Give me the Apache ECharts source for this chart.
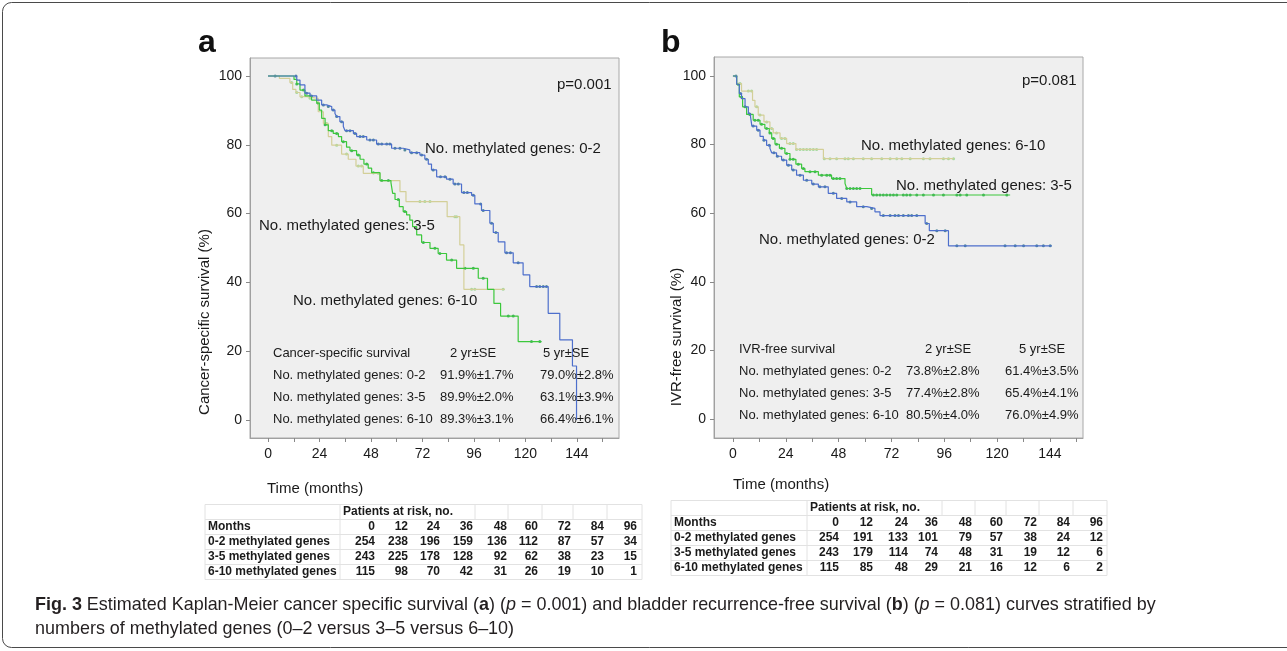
<!DOCTYPE html>
<html>
<head>
<meta charset="utf-8">
<script src="https://cdn.jsdelivr.net/npm/echarts@6/dist/echarts.min.js"></script>
<style>
  html, body { margin: 0; padding: 0; background: #fff; }
  #main { width: 1287px; height: 651px; }
</style>
</head>
<body>
<div id="main"></div>
<script>
  // Kaplan-Meier steps: [month, survival %] (survival drops to value at that month)
  const a02 = [[0,100],[13.4,98.8],[14.9,97.4],[17.2,95.0],[19.6,94.2],[22.7,93.0],[25.0,91.6],[27.3,91.1],[29.7,90.1],[31.2,89.1],[32.0,88.2],[33.5,86.7],[35.1,85.3],[35.9,84.1],[39.8,83.3],[41.3,82.4],[46.0,81.4],[50.6,80.2],[57.6,79.0],[63.0,78.5],[66.1,77.7],[70.8,77.0],[73.1,75.8],[74.7,74.4],[76.2,72.7],[78.6,70.7],[83.2,70.0],[86.3,68.6],[90.2,66.1],[94.9,65.3],[96.4,62.8],[99.5,60.9],[103.4,57.2],[105.0,54.5],[107.3,51.8],[110.4,48.6],[114.3,45.7],[118.9,42.2],[122.0,38.8],[130.6,31.0],[136.0,23.3],[141.9,15.7],[143.8,0]];
  const a35 = [[0,100],[12.1,99.0],[13.4,97.7],[14.9,95.9],[17.2,94.2],[20.3,93.0],[22.7,92.1],[23.9,90.1],[25.0,87.7],[26.6,85.8],[28.1,84.1],[30.4,83.3],[32.8,82.4],[34.3,80.9],[36.6,79.3],[38.2,78.3],[41.3,77.0],[42.9,75.8],[44.7,74.4],[46.7,73.2],[48.3,71.9],[52.2,69.6],[57.3,69.0],[58.1,65.9],[59.2,64.1],[61.2,62.0],[63.0,60.6],[64.6,59.6],[66.1,58.1],[67.4,56.2],[69.3,53.8],[71.6,51.6],[75.5,49.9],[79.3,48.4],[83.2,46.5],[87.9,44.1],[98.0,41.2],[102.3,38.0],[105.3,33.9],[108.4,30.2],[116.6,22.8]];
  const a610 = [[0,100],[5.3,99.3],[10.2,98.1],[11.5,96.1],[13.0,95.2],[14.9,94.0],[18.0,93.5],[23.4,89.6],[25.8,86.2],[28.1,82.4],[29.7,79.9],[34.3,77.3],[37.4,75.8],[41.0,73.8],[44.4,71.7],[52.2,69.6],[61.5,66.4],[64.3,63.5],[83.5,59.1],[89.4,50.9],[91.3,38.0]];
  const b02 = [[0,100],[1.7,97.6],[2.9,94.9],[3.9,93.4],[5.5,91.0],[7.0,89.0],[8.0,88.1],[8.6,85.4],[10.8,84.2],[12.3,82.4],[13.8,81.3],[15.3,79.8],[16.8,78.9],[17.6,77.6],[19.8,76.6],[22.1,75.5],[24.4,74.0],[26.7,72.6],[28.9,71.1],[32.0,69.6],[35.8,68.5],[38.8,67.7],[43.3,65.8],[47.1,64.3],[51.7,63.3],[56.2,61.9],[60.8,61.4],[64.5,60.4],[66.8,59.3],[87.3,57.0],[89.2,54.9],[97.9,50.5]];
  const b35 = [[0,100],[1.7,97.6],[2.9,93.9],[4.4,91.0],[6.2,88.8],[9.2,87.1],[12.3,85.9],[14.5,84.7],[16.5,83.4],[17.6,81.8],[19.1,80.1],[21.1,78.9],[23.6,77.4],[25.9,75.7],[28.6,74.3],[31.2,73.0],[32.7,72.1],[38.8,71.1],[44.8,70.1],[50.9,68.7],[51.7,67.2],[63.0,65.3]];
  const b610 = [[0,100],[1.7,97.8],[3.9,95.6],[8.9,92.9],[10.0,91.0],[11.5,88.6],[14.1,86.6],[16.8,84.7],[18.3,83.4],[21.4,81.8],[24.4,80.3],[28.6,78.6],[41.1,75.9]];

  // last follow-up month of each curve
  const ends = { a02: 143.8, a35: 127.5, a610: 110.4, b02: 144.8, b35: 125.9, b610: 100.2 };

  // censored observations (months)
  const a02Cens = [3.3,13,18,20.3,25.8,28.1,30.4,32,34.3,36.6,38.2,40.5,42.9,44.4,47.5,49.1,51.4,53,55.3,56.8,59.2,61.5,63.8,66.9,69.3,71.6,73.9,77,80.4,82.5,84.8,87.1,88.7,91.3,92.9,95.7,99.1,100.3,104.2,106.2,111.2,113,116.6,125.2,126.7,128.3,129.8];
  const a35Cens = [13.4,16.5,19.6,23.4,26.6,29.7,32,35.1,39,42.1,46,49.1,53,56.1,60.7,63.8,72.4,77.8,80.1,85.6,91.8,95.7,100.3,112,114.3,122.8,126.7];
  const a610Cens = [11,13.4,15.7,19.6,27.3,32,36.6,42.1,43.6,51.4,70.8,73.1,75.5,87.1,87.9,94.9,96.4,109.6];
  const b02Cens = [1.4,3.5,7.4,9.2,11.5,14.1,16.5,18.6,20.2,22.9,25.2,27.4,30.5,33.5,36.5,39.5,41.8,45.6,49.4,53.2,59.2,63,68.3,71.4,73.6,75.2,77.4,79.7,81.2,83.5,88,92.6,96.4,101.7,105.5,123.6,128.2,132,138,141,144.1];
  const b35Cens = [2.4,3.9,5.5,7.7,10,11.5,13,15.3,16.8,18.3,19.8,22.1,24.4,25.9,27.4,29.7,32,35,37.3,40.3,42.6,44.1,45.6,47.1,48.6,51.7,53.2,54.7,56.2,57.7,63.8,65.3,66.8,68.3,69.8,71.4,72.9,74.4,77.4,78.9,80.5,83.5,86.5,91.1,95.6,101.7,103.2,106.2,113.8,124.4];
  const b610Cens = [3.2,7,8.5,10.8,12.3,15.3,17.6,19.8,22.1,23.6,25.9,27.4,28.9,30.5,32,33.5,35,36.5,38,41.5,44.1,47.1,50.9,52.4,54.7,59.2,63,67.6,71.4,74.4,76.7,80.5,86.5,89.5,95.6,97.9,100.2];

  // axis ticks
  const xLabels = [0, 24, 48, 72, 96, 120, 144];
  const xTicks = [0, 12, 24, 36, 48, 60, 72, 84, 96, 108, 120, 132, 144, 156];
  const yLabels = [0, 20, 40, 60, 80, 100];

  // survival summary text
  const statsHeadA = ['Cancer-specific survival', '2 yr±SE', '5 yr±SE'];
  const statsHeadB = ['IVR-free survival', '2 yr±SE', '5 yr±SE'];
  const groupLabels = ['No. methylated genes: 0-2', 'No. methylated genes: 3-5', 'No. methylated genes: 6-10'];
  const twoYrA = ['91.9%±1.7%', '89.9%±2.0%', '89.3%±3.1%'];
  const fiveYrA = ['79.0%±2.8%', '63.1%±3.9%', '66.4%±6.1%'];
  const twoYrB = ['73.8%±2.8%', '77.4%±2.8%', '80.5%±4.0%'];
  const fiveYrB = ['61.4%±3.5%', '65.4%±4.1%', '76.0%±4.9%'];

  // patients at risk
  const riskMonths = [0, 12, 24, 36, 48, 60, 72, 84, 96];
  const riskRows = ['0-2 methylated genes', '3-5 methylated genes', '6-10 methylated genes'];
  const riskA02 = [254, 238, 196, 159, 136, 112, 87, 57, 34];
  const riskA35 = [243, 225, 178, 128, 92, 62, 38, 23, 15];
  const riskA610 = [115, 98, 70, 42, 31, 26, 19, 10, 1];
  const riskB02 = [254, 191, 133, 101, 79, 57, 38, 24, 12];
  const riskB35 = [243, 179, 114, 74, 48, 31, 19, 12, 6];
  const riskB610 = [115, 85, 48, 29, 21, 16, 12, 6, 2];

  const FONT = "'Liberation Sans', Arial, sans-serif";
  const C_BLUE = '#4d6fcc', C_BLUE_M = '#2a6f86';
  const C_GREEN = '#3cc83c', C_GREEN_M = '#1f9f45';
  const C_KHAKI = '#d3cf98', C_KHAKI_M = '#93d38a';

  function stepAt(steps, t) {
    let s = steps[0][1];
    for (const p of steps) { if (p[0] <= t) s = p[1]; }
    return s;
  }
  function withEnd(steps, end) {
    return steps.concat([[end, steps[steps.length - 1][1]]]);
  }

  function curve(steps, end, cens, color, mColor, gi) {
    return [
      {
        type: 'line', step: 'end', xAxisIndex: gi, yAxisIndex: gi,
        data: withEnd(steps, end), showSymbol: false,
        lineStyle: { color: color, width: 1.2 }, itemStyle: { color: color },
        animation: false, silent: true
      },
      {
        type: 'scatter', xAxisIndex: gi, yAxisIndex: gi,
        data: cens.map(t => [t, stepAt(steps, t)]),
        symbol: 'circle', symbolSize: 3,
        itemStyle: { color: mColor }, animation: false, silent: true
      }
    ];
  }

  function xAxisFor(gi, min, max) {
    return {
      type: 'value', gridIndex: gi, min: min, max: max,
      axisLine: { show: true, onZero: false, lineStyle: { color: '#a0a0a0' } },
      axisTick: { show: true, customValues: xTicks, length: 4, lineStyle: { color: '#888' } },
      axisLabel: { customValues: xLabels, color: '#1a1a1a', fontSize: 14, fontFamily: FONT, margin: 9 },
      splitLine: { show: false }
    };
  }
  function yAxisFor(gi, min, max) {
    return {
      type: 'value', gridIndex: gi, min: min, max: max,
      axisLine: { show: true, onZero: false, lineStyle: { color: '#a0a0a0' } },
      axisTick: { show: true, customValues: yLabels, length: 4, lineStyle: { color: '#888' } },
      axisLabel: { customValues: yLabels, color: '#1a1a1a', fontSize: 14, fontFamily: FONT, margin: 8 },
      splitLine: { show: false }
    };
  }

  function txt(x, y, text, size, opts) {
    opts = opts || {};
    return {
      type: 'text', x: x, y: y, rotation: opts.rotation || 0, z: 10,
      scaleX: opts.scaleX || 1,
      style: {
        text: text, fontSize: size, fontFamily: opts.family || FONT,
        fontWeight: opts.weight || 'normal', fill: opts.fill || '#1a1a1a',
        align: opts.align || 'left', verticalAlign: 'middle', rich: opts.rich
      }
    };
  }
  function hline(x1, x2, y, color) {
    return { type: 'line', shape: { x1: x1, y1: y, x2: x2, y2: y }, style: { stroke: color || '#e2e2e2', lineWidth: 1 } };
  }
  function vline(x, y1, y2, color) {
    return { type: 'line', shape: { x1: x, y1: y1, x2: x, y2: y2 }, style: { stroke: color || '#e2e2e2', lineWidth: 1 } };
  }

  function statsBlock(head, twoYr, fiveYr, x0, xc2, xc3, xv2, xv3, y0, dy) {
    const g = [txt(x0, y0, head[0], 13), txt(xc2, y0, head[1], 13), txt(xc3, y0, head[2], 13)];
    for (let i = 0; i < 3; i++) {
      const y = y0 + dy * (i + 1);
      g.push(txt(x0, y, groupLabels[i], 13));
      g.push(txt(xv2, y, twoYr[i], 13));
      g.push(txt(xv3, y, fiveYr[i], 13));
    }
    return g;
  }

  function riskTable(x0, xRight, colX, rowY, lineY, vX, rows) {
    const g = [];
    lineY.forEach(y => g.push(hline(x0, xRight, y)));
    g.push(vline(x0, lineY[0], lineY[lineY.length - 1]));
    g.push(vline(vX[0], lineY[0], lineY[lineY.length - 1]));
    vX.slice(1).forEach(x => g.push(vline(x, lineY[0], lineY[1])));
    g.push(vline(xRight, lineY[0], lineY[lineY.length - 1]));
    g.push(txt(vX[0] + 3, rowY[0], 'Patients at risk, no.', 12, { weight: 'bold' }));
    g.push(txt(x0 + 3, rowY[1], 'Months', 12, { weight: 'bold' }));
    riskMonths.forEach((m, j) => g.push(txt(colX[j], rowY[1], String(m), 12, { weight: 'bold', align: 'right' })));
    rows.forEach((vals, i) => {
      g.push(txt(x0 + 3, rowY[i + 2], riskRows[i], 12, { weight: 'bold' }));
      vals.forEach((v, j) => g.push(txt(colX[j], rowY[i + 2], String(v), 12, { weight: 'bold', align: 'right' })));
    });
    return g;
  }

  const capRich = {
    b: { fontWeight: 'bold', fontSize: 19, fontFamily: FONT, fill: '#231f20' },
    i: { fontStyle: 'italic', fontSize: 19, fontFamily: FONT, fill: '#231f20' }
  };

  const graphics = [
    { type: 'rect', shape: { x: 2.5, y: 2.5, width: 1310, height: 645, r: 9 }, style: { fill: null, stroke: '#4a4a4a', lineWidth: 1 } },
    txt(198, 43, 'a', 32, { weight: 'bold', fill: '#111' }),
    txt(661, 43, 'b', 32, { weight: 'bold', fill: '#111' }),
    txt(205, 322, 'Cancer-specific survival (%)', 15, { rotation: Math.PI / 2, align: 'center' }),
    txt(677, 337, 'IVR-free survival (%)', 15, { rotation: Math.PI / 2, align: 'center' }),
    txt(267, 489, 'Time (months)', 15),
    txt(733, 485, 'Time (months)', 15),
    txt(557, 85, 'p=0.001', 15),
    txt(1022, 81, 'p=0.081', 15),
    txt(425, 149, groupLabels[0], 15),
    txt(259, 226, groupLabels[1], 15),
    txt(293, 301, groupLabels[2], 15),
    txt(861, 146, groupLabels[2], 15),
    txt(896, 186, groupLabels[1], 15),
    txt(759, 240, groupLabels[0], 15)
  ].concat(
    statsBlock(statsHeadA, twoYrA, fiveYrA, 273, 450, 543, 440, 540, 353, 22),
    statsBlock(statsHeadB, twoYrB, fiveYrB, 739, 925, 1019, 906, 1005, 349, 22),
    riskTable(205, 642, [375, 408, 440, 473, 507, 538, 571, 604, 637],
      [512, 527, 542, 557, 572], [504.5, 519.5, 534.5, 549.5, 564.5, 579.5],
      [340, 475, 508, 542, 573, 607], [riskA02, riskA35, riskA610]),
    riskTable(671, 1107, [839, 873, 908, 938, 972, 1003, 1037, 1070, 1103],
      [508, 523, 538, 553, 568], [500.5, 515.5, 530.5, 545.5, 560.5, 575.5],
      [807, 942, 975, 1006, 1039, 1073], [riskB02, riskB35, riskB610]),
    [
      txt(35, 605, '{b|Fig. 3} Estimated Kaplan-Meier cancer specific survival ({b|a}) ({i|p} = 0.001) and bladder recurrence-free survival ({b|b}) ({i|p} = 0.081) curves stratified by', 19,
        { fill: '#231f20', scaleX: 0.945, rich: capRich }),
      txt(35, 629, 'numbers of methylated genes (0–2 versus 3–5 versus 6–10)', 19,
        { fill: '#231f20', scaleX: 0.945 })
    ]
  );

  const option = {
    backgroundColor: '#ffffff',
    animation: false,
    grid: [
      { left: 250, top: 58, width: 369, height: 380, show: true, backgroundColor: '#efefef', borderColor: '#a8a8a8', borderWidth: 1 },
      { left: 714, top: 57, width: 369, height: 381, show: true, backgroundColor: '#efefef', borderColor: '#a8a8a8', borderWidth: 1 }
    ],
    xAxis: [xAxisFor(0, -8.4, 163.6), xAxisFor(1, -8.6, 159)],
    yAxis: [yAxisFor(0, -5.23, 105.23), yAxisFor(1, -5.54, 105.54)],
    series: [].concat(
      curve(a610, ends.a610, a610Cens, C_KHAKI, C_KHAKI_M, 0),
      curve(a35, ends.a35, a35Cens, C_GREEN, C_GREEN_M, 0),
      curve(a02, ends.a02, a02Cens, C_BLUE, C_BLUE_M, 0),
      curve(b610, ends.b610, b610Cens, C_KHAKI, C_KHAKI_M, 1),
      curve(b35, ends.b35, b35Cens, C_GREEN, C_GREEN_M, 1),
      curve(b02, ends.b02, b02Cens, C_BLUE, C_BLUE_M, 1)
    ),
    graphic: graphics
  };

  const chartDom = document.getElementById('main');
  const myChart = echarts.init(chartDom);
  myChart.setOption(option);
</script>
</body>
</html>
